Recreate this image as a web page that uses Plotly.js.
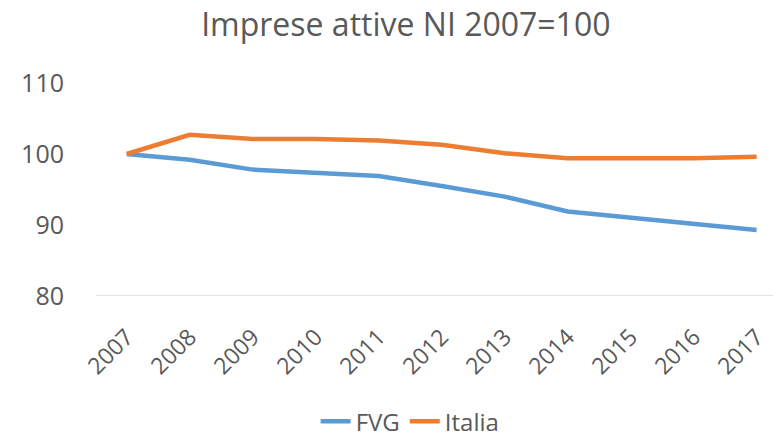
<!DOCTYPE html>
<html>
<head>
<meta charset="utf-8">
<script src="https://cdn.plot.ly/plotly-3.0.1.min.js"></script>
<style>html,body{margin:0;padding:0;background:#fff;}#chart{width:773px;height:437px;}</style>
</head>
<body>
<div id="chart"></div>
<script>
const years = [2007, 2008, 2009, 2010, 2011, 2012, 2013, 2014, 2015, 2016, 2017];
const fvg = [100, 99.2, 97.8, 97.4, 96.9, 95.5, 94.0, 91.9, 91.0, 90.1, 89.3];
const italia = [100, 102.7, 102.1, 102.1, 101.9, 101.3, 100.1, 99.4, 99.4, 99.4, 99.6];
const yTicks = [80, 90, 100, 110];
const FONT = 'Open Sans, Noto Sans, sans-serif';
const GREY = '#595959';

const traces = [
  {x: years, y: fvg, name: 'FVG', type: 'scatter', mode: 'lines',
   line: {color: '#5B9BD5', width: 4.5}},
  {x: years, y: italia, name: 'Italia', type: 'scatter', mode: 'lines',
   line: {color: '#ED7D31', width: 4.5}}
];

const layout = {
  width: 773, height: 437,
  margin: {l: 96, r: 0, t: 83, b: 141, autoexpand: false},
  paper_bgcolor: '#fff', plot_bgcolor: '#fff',
  font: {family: FONT, color: GREY},
  title: {text: 'Imprese attive NI 2007=100', font: {size: 32, color: GREY, family: FONT},
          x: 0.525, xanchor: 'center', y: 0.943, yanchor: 'middle'},
  xaxis: {range: [2006.513, 2017.26], tickmode: 'array', tickvals: years,
          ticktext: years.map(String), tickangle: -45, showgrid: false, zeroline: false,
          showline: false, ticks: '', ticklabelstandoff: 22, automargin: false,
          tickfont: {size: 23, color: GREY}},
  yaxis: {range: [80, 110], tickmode: 'array', tickvals: yTicks, showgrid: false,
          zeroline: false, showline: false, ticks: '', ticklabelstandoff: 31, automargin: false,
          tickfont: {size: 25, color: GREY}},
  shapes: [{type: 'line', xref: 'paper', yref: 'y', x0: 0, x1: 1, y0: 80, y1: 80,
            line: {color: '#D9D9D9', width: 1.5}}],
  showlegend: true,
  legend: {orientation: 'h', x: 0.464, xanchor: 'center', y: -0.59, yanchor: 'middle',
           font: {size: 24, color: GREY}, traceorder: 'normal'}
};

Plotly.newPlot('chart', traces, layout, {displayModeBar: false, staticPlot: true});
</script>
</body>
</html>
